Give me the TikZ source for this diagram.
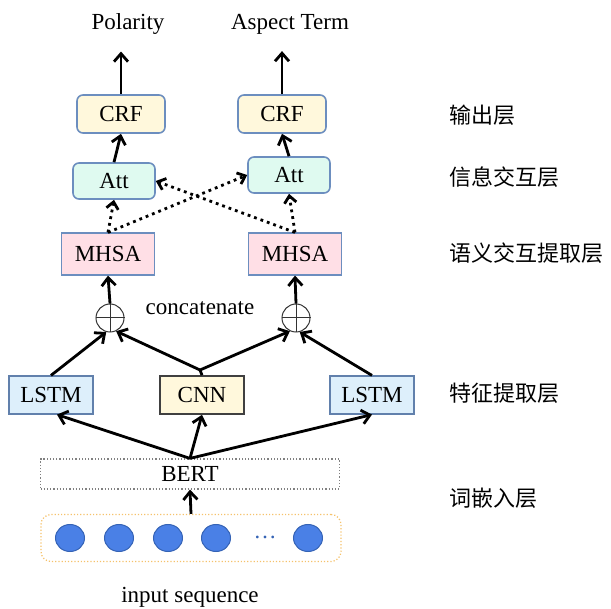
\documentclass[tikz,border=0pt]{standalone}
\usepackage{fontspec}
\setmainfont{Liberation Serif}
\newfontfamily\cjk{Noto Sans CJK SC}
\usetikzlibrary{arrows.meta,calc}
\definecolor{BoxBlue}{HTML}{6C8EBF}
\definecolor{CrfFill}{HTML}{FFF8DC}
\definecolor{AttFill}{HTML}{DFFAF0}
\definecolor{MhsaFill}{HTML}{FFDFE6}
\definecolor{LstmFill}{HTML}{DDEFFB}
\definecolor{TokFill}{HTML}{4A80E6}
\definecolor{TokLine}{HTML}{3563B5}
\definecolor{SeqLine}{HTML}{F5C26B}
\tikzset{
  every node/.style={font=\fontsize{11.5}{13}\selectfont},
  crfbox/.style={draw=BoxBlue,fill=CrfFill,rounded corners=3pt,line width=0.8pt,minimum width=44pt,minimum height=19pt},
  attbox/.style={draw=BoxBlue,fill=AttFill,rounded corners=3pt,line width=0.8pt,minimum width=41pt,minimum height=18pt},
  mhsabox/.style={draw=BoxBlue,fill=MhsaFill,line width=0.6pt,minimum width=46.5pt,minimum height=21pt},
  lstmbox/.style={draw=BoxBlue!90!black,fill=LstmFill,line width=0.6pt,minimum width=42pt,minimum height=19pt},
  plusnode/.style={circle,draw=black!80,line width=0.5pt,minimum size=14pt,inner sep=0pt},
  token/.style={ellipse,draw=TokLine,fill=TokFill,line width=0.5pt,minimum width=14.5pt,minimum height=13.5pt,inner sep=0pt},
  flow/.style={-{Straight Barb[length=4pt,width=7pt]},line width=1.4pt},
  link/.style={-{Straight Barb[length=3.5pt,width=6pt]},line width=1.4pt,dotted},
  layer/.style={anchor=west,font=\cjk\fontsize{11}{13}\selectfont}
}
\usetikzlibrary{shapes.geometric}
\begin{document}
\begin{tikzpicture}[x=0.5pt,y=-0.5pt]
\useasboundingbox (0,0) rectangle (611,609);

\node (pol) at (128,24) {Polarity};
\node (asp) at (290,24) {Aspect Term};

\node[crfbox] (crfL) at (121,114) {CRF};
\node[crfbox] (crfR) at (282,114) {CRF};
\node[attbox] (attL) at (114,181) {Att};
\node[attbox] (attR) at (289,175) {Att};
\node[mhsabox] (mhsaL) at (108,254) {MHSA};
\node[mhsabox] (mhsaR) at (295,254) {MHSA};

\node[plusnode] (plusL) at (110,318) {};
\node[plusnode] (plusR) at (296,318) {};
\draw[line width=0.5pt,black!80] (plusL.north) -- (plusL.south) (plusL.west) -- (plusL.east);
\draw[line width=0.5pt,black!80] (plusR.north) -- (plusR.south) (plusR.west) -- (plusR.east);
\node (cat) at (200,308) {concatenate};

\node[lstmbox] (lstmL) at (51,395) {LSTM};
\node[draw=black!75,fill=CrfFill,line width=0.8pt,minimum width=42pt,minimum height=19pt] (cnn) at (202,395) {CNN};
\node[lstmbox] (lstmR) at (372,395) {LSTM};
\coordinate (cnnTop) at (200,370);

\node[draw=black!50,densely dotted,line width=0.6pt,minimum width=149.5pt,minimum height=15pt,inner sep=0pt] (bert) at (190,474) {BERT};

\node[draw=SeqLine,densely dotted,rounded corners=5pt,line width=0.6pt,minimum width=150pt,minimum height=23.5pt] (seq) at (191,538) {};
\node[token] (t1) at (70,538) {};
\node[token] (t2) at (119,538) {};
\node[token] (t3) at (168,538) {};
\node[token] (t4) at (216,538) {};
\node (dots) at (265,537) {\textcolor{TokLine}{\ldots}};
\node[token] (t5) at (308,538) {};
\node (inp) at (190,597) {input sequence};

\draw[flow,shorten >=5pt] (crfL.north) -- (crfL.north |- pol.south);
\draw[flow,shorten >=5pt] (crfR.north) -- (crfR.north |- asp.south);
\draw[flow] (attL.north) -- (crfL.south);
\draw[flow] (attR.north) -- (crfR.south);

\draw[link] (mhsaL.north) -- (attL.south);
\draw[link] (mhsaL.north) -- (attR.west);
\draw[link] (mhsaR.north) -- (attR.south);
\draw[link] (mhsaR.north) -- (attL.east);

\draw[flow] (plusL.north) -- (mhsaL.south);
\draw[flow] (plusR.north) -- (mhsaR.south);

\draw[flow] (lstmL.north) -- (plusL.255);
\draw[flow] (cnnTop) -- (plusL.295);
\draw[flow] (cnnTop) -- (plusR.245);
\draw[flow] (lstmR.north) -- (plusR.285);
\draw[line width=1.4pt] (cnn.north) -- (cnnTop);

\draw[flow] (bert.north) -- ($(lstmL.south)+(6,0)$);
\draw[flow] (bert.north) -- (cnn.south);
\draw[flow] (bert.north) -- (lstmR.south);
\draw[flow] (seq.north) -- (bert.south);

\node[layer] (l1) at (442,115) {输出层};
\node[layer] (l2) at (442,177) {信息交互层};
\node[layer] (l3) at (442,253) {语义交互提取层};
\node[layer] (l4) at (442,393) {特征提取层};
\node[layer] (l5) at (442,498) {词嵌入层};
\end{tikzpicture}
\end{document}
